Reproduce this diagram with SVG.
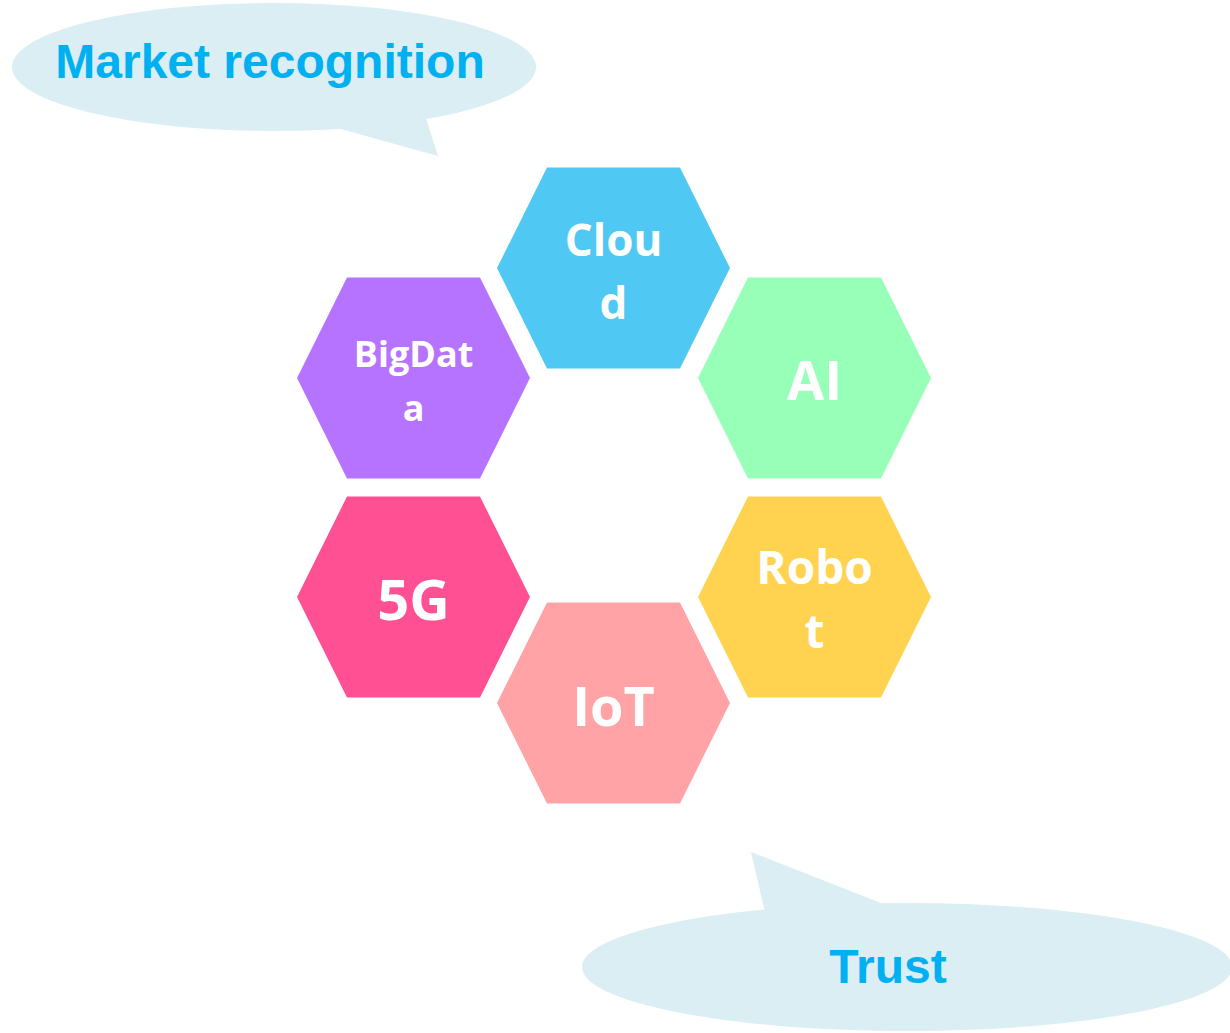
<svg xmlns="http://www.w3.org/2000/svg" width="1230" height="1033" viewBox="0 0 1230 1033">
<style>
.callout{fill:#DAEEF3;}
.ctext{font-family:"Liberation Sans",Arial,sans-serif;font-weight:bold;font-size:48px;fill:#00B0F0;text-anchor:middle;}
.htext{font-family:"Open Sans","Noto Sans",sans-serif;font-weight:bold;fill:#FFFFFF;text-anchor:middle;}
</style>
<defs>
<polygon id="hex" points="-116.5,0 -66.5,-100.5 66.5,-100.5 116.5,0 66.5,100.5 -66.5,100.5"/>
</defs>
<g id="callout-market">
<ellipse class="callout" cx="274" cy="67" rx="262" ry="64"/>
<polygon class="callout" points="330,126 438,156 424,112 400,118"/>
<text class="ctext" x="270" y="78">Market recognition</text>
</g>
<g id="callout-trust">
<ellipse class="callout" cx="907" cy="967" rx="325" ry="64"/>
<polygon class="callout" points="765,912 751,852 886,905 860,910"/>
<text class="ctext" x="888" y="983">Trust</text>
</g>
<g id="connectors"></g>
<g id="node-cloud">
<use href="#hex" x="613.5" y="268" fill="#4FC8F4"/>
<text class="htext" x="613.5" y="256" font-size="44">Clou</text>
<text class="htext" x="613.5" y="319" font-size="44">d</text>
</g>
<g id="node-bigdata">
<use href="#hex" x="413.5" y="378" fill="#B673FF"/>
<text class="htext" x="413.5" y="367" font-size="36">BigDat</text>
<text class="htext" x="413.5" y="421" font-size="36">a</text>
</g>
<g id="node-ai">
<use href="#hex" x="814.5" y="378" fill="#97FFB7"/>
<text class="htext" x="814.5" y="400" font-size="54">AI</text>
</g>
<g id="node-5g">
<use href="#hex" x="413.5" y="597" fill="#FF5094"/>
<text class="htext" x="413.5" y="620" font-size="56">5G</text>
</g>
<g id="node-robot">
<use href="#hex" x="814.5" y="597" fill="#FFD350"/>
<text class="htext" x="814.5" y="584" font-size="46">Robo</text>
<text class="htext" x="814.5" y="648" font-size="46">t</text>
</g>
<g id="node-iot">
<use href="#hex" x="613.5" y="703" fill="#FFA3A6"/>
<text class="htext" x="613.5" y="726" font-size="54">IoT</text>
</g>
</svg>
